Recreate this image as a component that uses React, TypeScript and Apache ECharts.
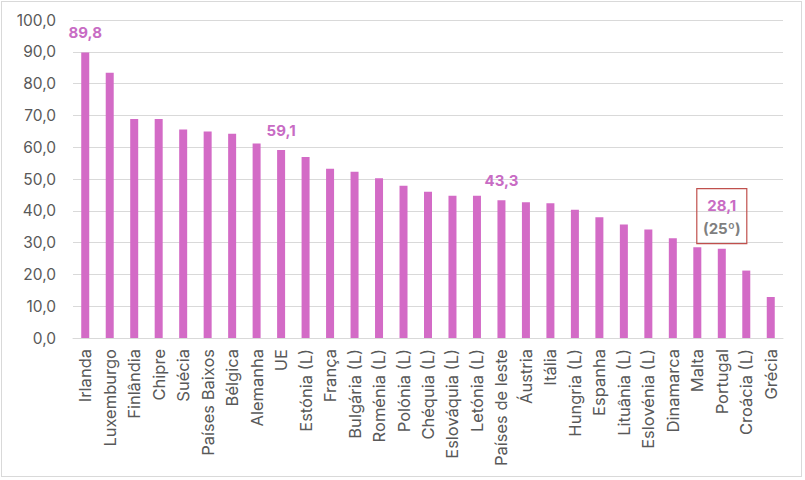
import React, { useEffect, useRef } from "react";
import * as echarts from "echarts";

const categories = [
  "Irlanda", "Luxemburgo", "Finlândia", "Chipre", "Suécia", "Países Baixos", "Bélgica",
  "Alemanha", "UE", "Estónia (L)", "França", "Bulgária (L)", "Roménia (L)", "Polónia (L)",
  "Chéquia (L)", "Eslováquia (L)", "Letónia (L)", "Países de leste", "Áustria", "Itália",
  "Hungria (L)", "Espanha", "Lituânia (L)", "Eslovénia (L)", "Dinamarca", "Malta",
  "Portugal", "Croácia (L)", "Grécia",
];

const values = [
  89.8, 83.4, 68.9, 68.9, 65.6, 64.9, 64.2, 61.2, 59.1, 56.9, 53.2, 52.3, 50.2, 47.9,
  46.0, 44.7, 44.7, 43.3, 42.7, 42.4, 40.3, 38.0, 35.7, 34.1, 31.4, 28.5, 28.1, 21.2, 12.9,
];

const labelledCategories = ["Irlanda", "UE", "Países de leste"];
const highlightCategory = "Portugal";
const highlightRank = "(25º)";

const yTicks = { min: 0, max: 100, interval: 10 };

const BAR = "#D36BC6";
const LABEL = "#C86CC4";
const FONT = "Inter";
const fmt = (v: number) => v.toFixed(1).replace(".", ",");

export default function App() {
  const ref = useRef<HTMLDivElement>(null);
  useEffect(() => {
    document.body.style.margin = "0";
    const chart = echarts.init(ref.current!, null, { renderer: "svg" });
    const data = values.map((v, i) => {
      const c = categories[i];
      if (labelledCategories.includes(c)) {
        return {
          value: v,
          label: {
            show: true,
            position: "top",
            distance: 12,
            formatter: (p: any) => fmt(p.value),
            color: LABEL,
            fontWeight: "bold",
            fontSize: 15,
            fontFamily: FONT,
          },
        };
      }
      if (c === highlightCategory) {
        return {
          value: v,
          label: {
            show: true,
            position: "top",
            distance: 5,
            formatter: (p: any) => `{a|${fmt(p.value)}}\n{b|${highlightRank}}`,
            borderColor: "#C0504D",
            borderWidth: 1.2,
            padding: [5, 7, 4, 7],
            width: 36,
            align: "center",
            rich: {
              a: { color: LABEL, fontWeight: "bold", fontSize: 15, fontFamily: FONT, lineHeight: 23, align: "center" },
              b: { color: "#7F7F7F", fontWeight: "bold", fontSize: 15, fontFamily: FONT, lineHeight: 23, align: "center" },
            },
          },
        };
      }
      return v;
    });
    chart.setOption({
      animation: false,
      backgroundColor: "#ffffff",
      grid: { left: 73, right: 22, top: 20, bottom: 142, containLabel: false },
      xAxis: {
        type: "category",
        data: categories,
        axisLine: { lineStyle: { color: "#D9D9D9", width: 1 } },
        axisTick: { show: false },
        axisLabel: {
          rotate: 90,
          interval: 0,
          margin: 11,
          color: "#595959",
          fontSize: 16.5,
          fontFamily: FONT,
        },
      },
      yAxis: {
        type: "value",
        min: yTicks.min,
        max: yTicks.max,
        interval: yTicks.interval,
        axisLine: { show: false },
        axisTick: { show: false },
        splitLine: { lineStyle: { color: "#D9D9D9", width: 1 } },
        axisLabel: {
          formatter: (v: number) => fmt(v),
          color: "#595959",
          fontSize: 15.5,
          fontFamily: FONT,
          margin: 17,
        },
      },
      series: [
        {
          type: "bar",
          data,
          barWidth: 8,
          itemStyle: { color: BAR },
        },
      ],
    });
    return () => chart.dispose();
  }, []);
  return (
    <div style={{ position: "relative", width: 805, height: 480, background: "#fff" }}>
      <div ref={ref} style={{ width: 805, height: 480 }} />
      <div
        style={{
          position: "absolute",
          left: 1,
          top: 1,
          width: 799,
          height: 474,
          border: "1px solid #D9D9D9",
          pointerEvents: "none",
        }}
      />
    </div>
  );
}
